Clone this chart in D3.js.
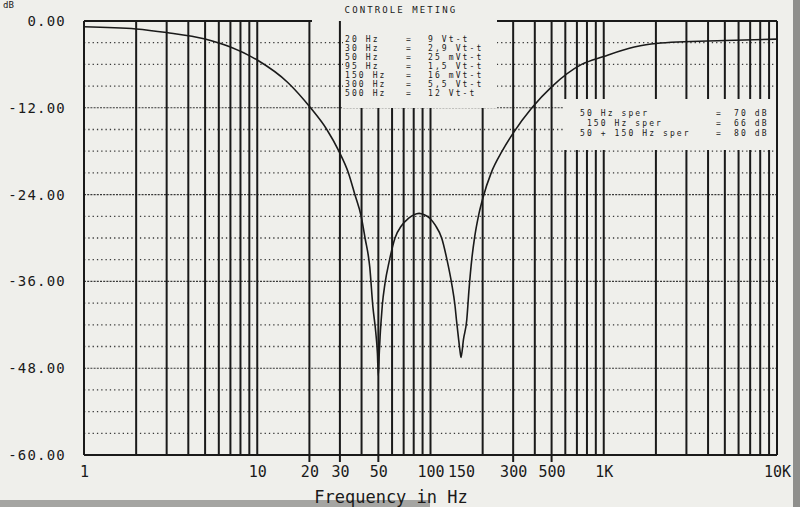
<!DOCTYPE html>
<html>
<head>
<meta charset="utf-8">
<script src="https://cdn.jsdelivr.net/npm/d3@7"></script>
<style>
  body { margin: 0; background: #eeeeea; }
  svg { display: block; }
  text { font-family: "DejaVu Sans Mono", monospace; fill: #1a1a1a; }
</style>
</head>
<body>
<svg id="chart" width="800" height="507"></svg>
<script>
"use strict";

var freqs = [1, 2, 3, 5, 7, 10, 15, 20.3, 25.2, 29.6, 33.6, 36.6, 39.8, 41.9, 44.6, 46.5, 48.3, 49.4, 50,
    50.6, 51.2, 51.9, 52.7, 54.6, 57.8, 62.4, 68, 74.5, 80, 86, 92, 99.4, 107, 116, 125, 132.5, 138.4, 141.3, 145, 148, 150,
    155, 161.8, 167, 173, 180, 189, 201, 224, 259, 300, 385, 500, 745, 1000, 1500, 2000, 5000, 10000];
var gains = [-0.8, -1.1, -1.6, -2.5, -3.6, -5.4, -8.5, -12, -15, -18, -21, -24, -27, -30, -34, -39.5, -43, -46, -49,
    -46, -43.5, -41.4, -39.3, -36.3, -33.2, -30, -28.3, -27.3, -26.8, -26.6, -26.8, -27.3, -28.3, -30, -33.2, -36.3, -39.3, -41.4, -43.8, -45.6, -46.5,
    -44, -41.4, -37, -33, -29.8, -27, -24.4, -21, -18, -15.5, -12, -9.1, -6, -4.9, -3.6, -3.1, -2.7, -2.5];

var yTicks = [0, -12, -24, -36, -48, -60];
var xLabels = [1, 10, 20, 30, 50, 100, 150, 300, 500, 1000, 10000];
var xLabelText = ['1', '10', '20', '30', '50', '100', '150', '300', '500', '1K', '10K'];
var xLongTicks = [20, 30, 50, 150, 300, 500];

var measFreqs = ['20 Hz', '30 Hz', '50 Hz', '95 Hz', '150 Hz', '300 Hz', '500 Hz'];
var measValues = ['9 Vt-t', '2,9 Vt-t', '25 mVt-t', '1,5 Vt-t', '16 mVt-t', '5,5 Vt-t', '12 Vt-t'];
var rejNames = ['50 Hz sper', ' 150 Hz sper', '50 + 150 Hz sper'];
var rejValues = ['70 dB', '66 dB', '80 dB'];

var svg = d3.select('#chart');
var ink = '#1a1a1a';
var paper = '#efefeb';

var x = d3.scaleLog().domain([1, 10000]).range([84, 777]);
var y = d3.scaleLinear().domain([-60, 0]).range([455, 21]);

// paper and its edges
svg.append('rect').attr('x', 0).attr('y', 0).attr('width', 800).attr('height', 507).attr('fill', paper);
svg.append('rect').attr('x', 793).attr('y', 0).attr('width', 7).attr('height', 507).attr('fill', '#8f8f8c');
svg.append('rect').attr('x', 0).attr('y', 500).attr('width', 430).attr('height', 7).attr('fill', '#a5a5a2');

var grid = svg.append('g');

// horizontal dotted lines every 3 dB
grid.selectAll('line.h').data(d3.range(-57, 0, 3)).enter().append('line')
    .attr('x1', x(1)).attr('x2', x(10000))
    .attr('y1', function(d) { return y(d); }).attr('y2', function(d) { return y(d); })
    .attr('stroke', ink)
    .attr('stroke-width', function(d) { return d % 12 === 0 ? 1.1 : 1.3; })
    .attr('stroke-dasharray', function(d) { return d % 12 === 0 ? '2 1.2' : '1.3 3'; })
    .attr('opacity', 0.85);

// vertical log grid
grid.selectAll('line.v').data(x.ticks().filter(function(f) { return f > 1 && f < 10000; })).enter().append('line')
    .attr('x1', function(d) { return x(d); }).attr('x2', function(d) { return x(d); })
    .attr('y1', y(0))
    .attr('y2', function(d) { return xLongTicks.indexOf(d) >= 0 ? y(-60) + 7 : y(-60); })
    .attr('stroke', ink).attr('stroke-width', 2);

// blank areas behind the printed notes
svg.append('rect').attr('x', 343).attr('y', 16).attr('width', 154).attr('height', 92).attr('fill', paper);
svg.append('rect').attr('x', 563).attr('y', 99).attr('width', 213).attr('height', 51).attr('fill', paper);

// frame
var frame = svg.append('g').attr('stroke', ink).attr('stroke-width', 2).attr('fill', 'none');
frame.append('line').attr('x1', x(1)).attr('x2', x(1)).attr('y1', y(0)).attr('y2', y(-60));
frame.append('line').attr('x1', x(10000)).attr('x2', x(10000)).attr('y1', y(0)).attr('y2', y(-60));
frame.append('line').attr('x1', x(1)).attr('x2', x(10000)).attr('y1', y(-60)).attr('y2', y(-60));
frame.append('line').attr('x1', x(1)).attr('x2', 312).attr('y1', y(0)).attr('y2', y(0));
frame.append('line').attr('x1', 497).attr('x2', x(10000)).attr('y1', y(0)).attr('y2', y(0));

// y axis labels
var yAxis = d3.axisLeft(y).tickValues(yTicks).tickSize(0).tickPadding(0)
    .tickFormat(function(d) { return d3.format('.2f')(d).replace('−', '-'); });
svg.append('g').attr('transform', 'translate(66,0)').call(yAxis)
    .call(function(g) { g.select('.domain').remove(); })
    .selectAll('text')
    .attr('font-family', '"DejaVu Sans Mono", monospace')
    .attr('font-size', 14).attr('letter-spacing', 1.2).attr('fill', ink);

// x axis labels
var xAxis = d3.axisBottom(x).tickValues(xLabels).tickSize(0).tickPadding(0)
    .tickFormat(function(d, i) { return xLabelText[i]; });
svg.append('g').attr('transform', 'translate(0,466)').call(xAxis)
    .call(function(g) { g.select('.domain').remove(); })
    .selectAll('text')
    .attr('font-family', '"DejaVu Sans Mono", monospace')
    .attr('font-size', 15).attr('fill', ink);

svg.append('text').attr('x', 391).attr('y', 503).attr('text-anchor', 'middle')
    .attr('font-size', 17).text('Frequency in Hz');

svg.append('text').attr('x', 3).attr('y', 8).attr('font-size', 9).text('dB');

svg.append('text').attr('x', 401).attr('y', 13).attr('text-anchor', 'middle')
    .attr('font-size', 9).attr('letter-spacing', 2.1).text('CONTROLE METING');

// notes: measured levels
var notes = svg.append('g').attr('font-size', 8).attr('letter-spacing', 2.1);
measFreqs.forEach(function(f, i) {
    var ty = 42 + i * 9;
    notes.append('text').attr('x', 345).attr('y', ty).text(f);
    notes.append('text').attr('x', 406).attr('y', ty).text('=');
    notes.append('text').attr('x', 428).attr('y', ty).text(measValues[i]);
});

// notes: rejection
rejNames.forEach(function(n, i) {
    var ty = 116 + i * 10;
    notes.append('text').attr('x', 580).attr('y', ty).attr('xml:space', 'preserve').text(n);
    notes.append('text').attr('x', 716).attr('y', ty).text('=');
    notes.append('text').attr('x', 734).attr('y', ty).text(rejValues[i]);
});

// response curve
var line = d3.line()
    .x(function(d, i) { return x(freqs[i]); })
    .y(function(d) { return y(d); })
    .curve(d3.curveMonotoneX);

svg.append('path').datum(gains)
    .attr('d', line)
    .attr('fill', 'none').attr('stroke', ink).attr('stroke-width', 1.6);
</script>
</body>
</html>
